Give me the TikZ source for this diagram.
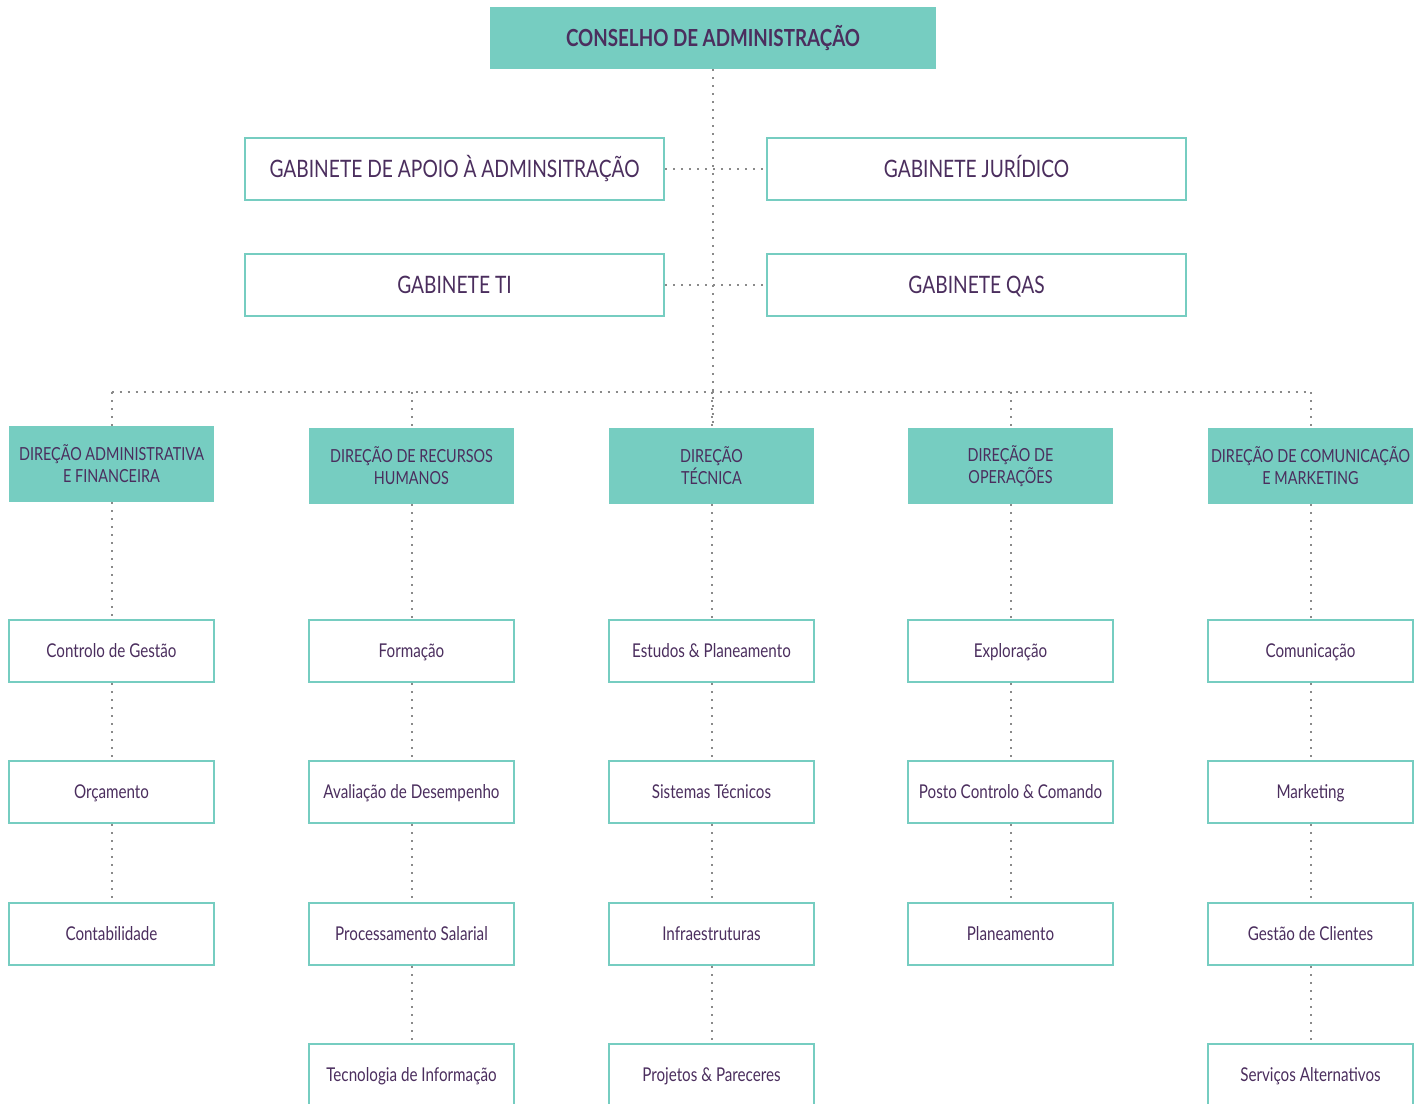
\documentclass[tikz,border=0pt]{standalone}
\usepackage{fontspec}
\setmainfont[FakeStretch=0.8]{Lato}
\definecolor{tealc}{HTML}{76CDC1}
\definecolor{txt}{HTML}{4B2E5E}
\definecolor{dotc}{HTML}{8A8A8A}
\begin{document}
\begin{tikzpicture}[x=1pt,y=-1pt,
  topbox/.style={fill=tealc, draw=none, minimum width=446pt, minimum height=62pt, text=txt, inner sep=0pt, text height=17pt, text depth=0pt, font=\bfseries\fontsize{23.5}{26}\selectfont},
  gab/.style={draw=tealc, line width=2.5pt, fill=white, minimum width=419pt, minimum height=62pt, text=txt, inner sep=0pt, text height=17pt, text depth=0pt, font=\fontsize{24}{26}\selectfont},
  dirbox/.style={fill=tealc, draw=none, minimum width=205pt, minimum height=76pt, text=txt, align=center, inner sep=0pt, font=\fontsize{18}{22}\selectfont},
  subbox/.style={draw=tealc, line width=2pt, fill=white, minimum width=205pt, minimum height=62pt, text=txt, inner sep=0pt, text height=13.5pt, text depth=0pt, font=\fontsize{19}{22}\selectfont},
  dots/.style={draw=dotc, line width=2pt, dash pattern=on 2pt off 6pt}
]
\useasboundingbox (0,0) rectangle (1420,1103);
\fill[white] (0,0) rectangle (1420,1103);

\node[topbox] (top) at (713,38) {CONSELHO DE ADMINISTRAÇÃO};

\node[gab] (apoio) at (454.5,169) {GABINETE DE APOIO À ADMINSITRAÇÃO};
\node[gab] (jur) at (976.5,169) {GABINETE JURÍDICO};
\node[gab] (ti) at (454.5,285) {GABINETE TI};
\node[gab] (qas) at (976.5,285) {GABINETE QAS};

\node[dirbox] (daf) at (111.5,464) {DIREÇÃO ADMINISTRATIVA\\E FINANCEIRA};
\node[dirbox] (drh) at (411.5,466) {DIREÇÃO DE RECURSOS\\HUMANOS};
\node[dirbox] (dt) at (711.5,466) {DIREÇÃO\\TÉCNICA};
\node[dirbox] (do) at (1010.5,466) {DIREÇÃO DE\\OPERAÇÕES};
\node[dirbox] (dcm) at (1310.5,466) {DIREÇÃO DE COMUNICAÇÃO\\E MARKETING};

\node[subbox] (a1) at (111.5,651) {Controlo de Gestão};
\node[subbox] (a2) at (111.5,792) {Orçamento};
\node[subbox] (a3) at (111.5,934) {Contabilidade};

\node[subbox] (b1) at (411.5,651) {Formação};
\node[subbox] (b2) at (411.5,792) {Avaliação de Desempenho};
\node[subbox] (b3) at (411.5,934) {Processamento Salarial};
\node[subbox] (b4) at (411.5,1075) {Tecnologia de Informação};

\node[subbox] (c1) at (711.5,651) {Estudos \& Planeamento};
\node[subbox] (c2) at (711.5,792) {Sistemas Técnicos};
\node[subbox] (c3) at (711.5,934) {Infraestruturas};
\node[subbox] (c4) at (711.5,1075) {Projetos \& Pareceres};

\node[subbox] (d1) at (1010.5,651) {Exploração};
\node[subbox] (d2) at (1010.5,792) {Posto Controlo \& Comando};
\node[subbox] (d3) at (1010.5,934) {Planeamento};

\node[subbox] (e1) at (1310.5,651) {Comunicação};
\node[subbox] (e2) at (1310.5,792) {Marketing};
\node[subbox] (e3) at (1310.5,934) {Gestão de Clientes};
\node[subbox] (e4) at (1310.5,1075) {Serviços Alternativos};

\coordinate (bus) at (713,392);

\draw[dots] (top.south) -- (top.south |- dt.north);
\draw[dots] (apoio.east) -- (jur.west);
\draw[dots] (ti.east) -- (qas.west);
\draw[dots] (daf.north |- bus) -- (dcm.north |- bus);
\foreach \n in {daf,drh,dt,do,dcm}
  \draw[dots] (\n.north |- bus) -- (\n.north);

\draw[dots] (daf) -- (a1) -- (a2) -- (a3);
\draw[dots] (drh) -- (b1) -- (b2) -- (b3) -- (b4);
\draw[dots] (dt) -- (c1) -- (c2) -- (c3) -- (c4);
\draw[dots] (do) -- (d1) -- (d2) -- (d3);
\draw[dots] (dcm) -- (e1) -- (e2) -- (e3) -- (e4);
\end{tikzpicture}
\end{document}
